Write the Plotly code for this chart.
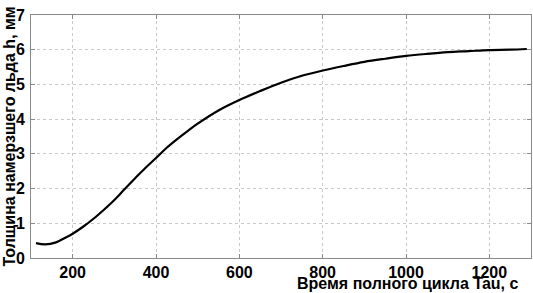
import plotly.graph_objects as go

tau = [112, 134, 160, 180, 200, 225, 250, 275, 300, 325, 350, 375, 400, 425, 450,
       475, 500, 550, 600, 650, 700, 750, 800, 850, 900, 950, 1000, 1050, 1100,
       1150, 1200, 1250, 1290]
h = [0.43, 0.39, 0.45, 0.57, 0.70, 0.90, 1.13, 1.39, 1.67, 1.99, 2.30, 2.60, 2.88,
     3.17, 3.42, 3.65, 3.87, 4.25, 4.55, 4.81, 5.05, 5.25, 5.40, 5.53, 5.65, 5.74,
     5.82, 5.88, 5.93, 5.96, 5.99, 6.00, 6.02]
x_ticks = [200, 400, 600, 800, 1000, 1200]
y_ticks = [0, 1, 2, 3, 4, 5, 6, 7]
x_title = "Время полного цикла Tau, с"
y_title = "Толщина намерзшего льда h, мм"

fig = go.Figure()
fig.add_trace(go.Scatter(x=tau, y=h, mode="lines", line=dict(color="black", width=2.2, shape="spline"),
                         showlegend=False))

fam = "Liberation Sans, Arial, sans-serif"
font = dict(family=fam, size=16, color="black", weight="bold")
axis_common = dict(showline=True, linecolor="#8a8a8a", linewidth=1, mirror="ticks",
                   ticks="inside", ticklen=4, tickcolor="#8a8a8a",
                   showgrid=True, gridcolor="#c8c8c8", griddash="dot", gridwidth=1,
                   zeroline=False, tickfont=font)

fig.update_layout(
    width=533, height=293,
    margin=dict(l=31, r=2, t=15, b=35),
    paper_bgcolor="white", plot_bgcolor="white",
    xaxis=dict(range=[100, 1300], tickvals=x_ticks, **axis_common),
    yaxis=dict(range=[0, 7], tickvals=y_ticks, ticklabelstandoff=2, **axis_common),
    annotations=[
        dict(text=x_title, xref="paper", yref="paper", x=1, y=0, xanchor="right", yanchor="middle",
             xshift=-11, yshift=-25, showarrow=False,
             font=dict(family=fam, size=16, color="black", weight="bold")),
        dict(text=y_title, xref="paper", yref="paper", x=0, y=0.5, xanchor="center", yanchor="middle",
             xshift=-22, textangle=-90, showarrow=False,
             font=dict(family=fam, size=16, color="black", weight="bold")),
    ],
)

fig.write_html("out.html", config={"displayModeBar": False},
               post_script="document.body.style.margin='0';document.body.style.overflow='hidden';")
